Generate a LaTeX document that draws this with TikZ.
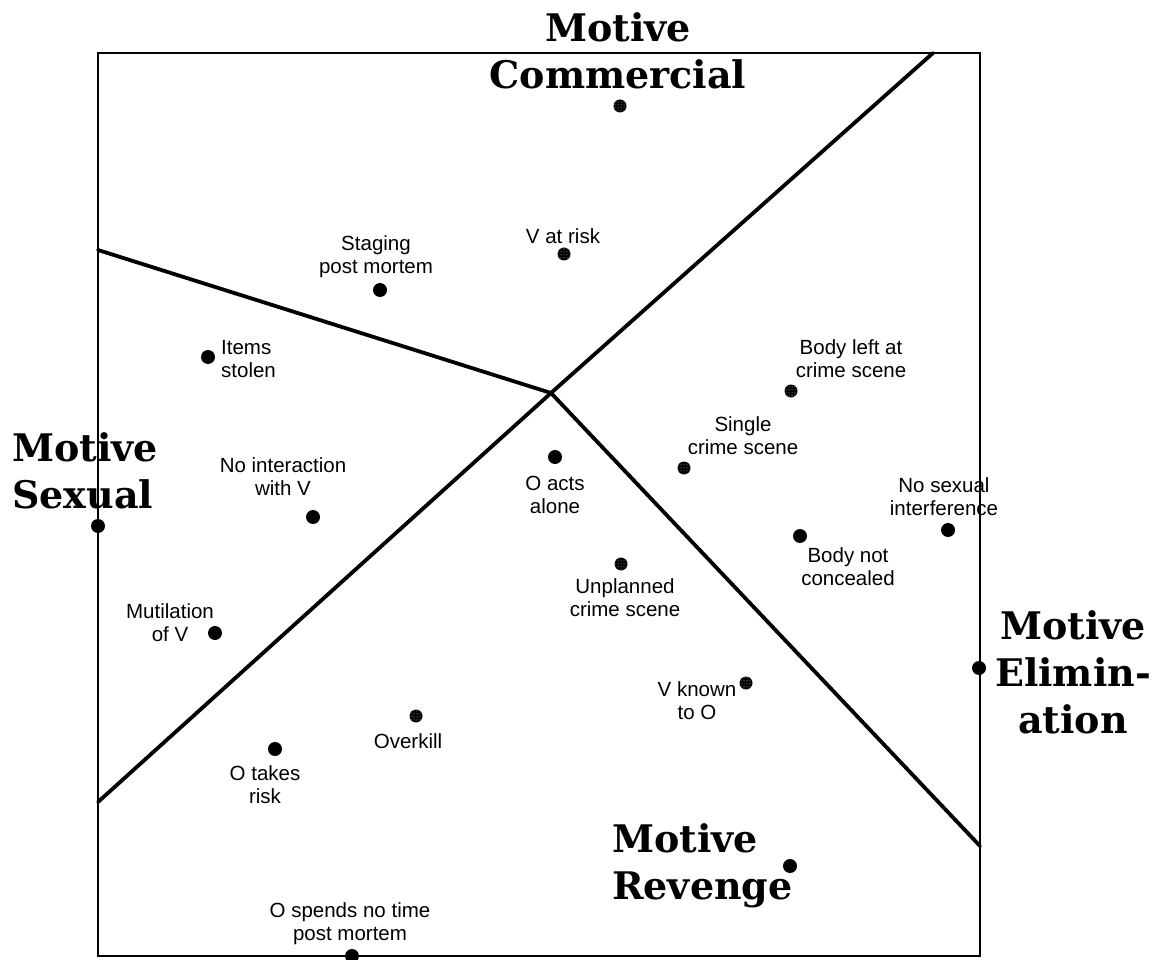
\documentclass[tikz,border=0pt]{standalone}
\usepackage{fontspec}
\setmainfont{Liberation Sans}
\newfontfamily\motivefont{DejaVu Serif}
\usetikzlibrary{patterns}

\tikzset{
  frame/.style={line width=2pt},
  divider/.style={line width=3.8pt, line cap=round, line join=round},
  lbl/.style={font=\fontsize{20.5}{23}\selectfont, align=center, inner sep=0pt},
  motive/.style={font=\motivefont\bfseries\fontsize{38}{47}\selectfont, inner sep=0pt},
  blackdot/.style={circle, fill=black, minimum size=14pt, inner sep=0pt},
  greydot/.style={circle, minimum size=13pt, inner sep=0pt,
    preaction={fill=black}, pattern=dots, pattern color=white!80!black},
}

\begin{document}
\begin{tikzpicture}[x=1pt,y=-1pt]
\useasboundingbox (0,0) rectangle (1160,960);

% outer square
\coordinate (nw) at (98,53);
\coordinate (se) at (980,956);
\draw[frame] (nw) rectangle (se);

% region boundaries meeting at the centre
\coordinate (hub) at (551,393);
\coordinate (eTL) at (98,250);
\coordinate (eTR) at (933,53);
\coordinate (eBR) at (980,846);
\coordinate (eBL) at (98,802);
\draw[divider] (eTL) -- (hub);
\draw[divider] (eBL) -- (hub) -- (eTR);
\draw[divider] (hub) -- (eBR);

% motive labels and their anchor points
\node[motive, align=center] (mCom) at (618,51) {Motive\\Commercial};
\node[greydot] (dCom) at (620,106) {};
\node[motive, align=left, anchor=west] (mSex) at (12,471) {Motive\\Sexual};
\node[blackdot] (dSex) at (98,526) {};
\node[motive, align=center] (mEli) at (1073,672) {Motive\\Elimin-\\ation};
\node[blackdot] (dEli) at (979,668) {};
\node[motive, align=left, anchor=west] (mRev) at (612,866) {Motive\\Revenge};
\node[blackdot] (dRev) at (790,866) {};

% crime scene actions
\node[lbl] (tRisk) at (563,236) {V at risk};
\node[greydot] (dRisk) at (564,254) {};

\node[lbl] (tStag) at (376,257) {Staging\\post mortem};
\node[blackdot] (dStag) at (380,290) {};

\node[lbl, align=left, anchor=west] (tItem) at (221,359) {Items\\stolen};
\node[blackdot] (dItem) at (208,357) {};

\node[lbl] (tBody) at (851,359) {Body left at\\crime scene};
\node[greydot] (dBody) at (791,391) {};

\node[lbl] (tSing) at (743,436) {Single\\crime scene};
\node[greydot] (dSing) at (684,468) {};

\node[lbl] (tInt) at (283,477) {No interaction\\with V};
\node[blackdot] (dInt) at (313,517) {};

\node[blackdot] (dAlone) at (555,457) {};
\node[lbl] (tAlone) at (555,495) {O acts\\alone};

\node[lbl] (tSex) at (944,497) {No sexual\\interference};
\node[blackdot] (dSexI) at (948,530) {};

\node[blackdot] (dConc) at (800,536) {};
\node[lbl] (tConc) at (848,567) {Body not\\concealed};

\node[greydot] (dUnpl) at (621,564) {};
\node[lbl] (tUnpl) at (625,598) {Unplanned\\crime scene};

\node[lbl] (tMut) at (170,623) {Mutilation\\of V};
\node[blackdot] (dMut) at (215,633) {};

\node[greydot] (dKnown) at (746,683) {};
\node[lbl] (tKnown) at (697,701) {V known\\to O};

\node[greydot] (dOver) at (416,716) {};
\node[lbl] (tOver) at (408,741) {Overkill};

\node[blackdot] (dTake) at (275,749) {};
\node[lbl] (tTake) at (265,785) {O takes\\risk};

\node[lbl] (tTime) at (350,924) {O spends no time\\post mortem};
\node[blackdot] (dTime) at (352,956) {};
\end{tikzpicture}
\end{document}
